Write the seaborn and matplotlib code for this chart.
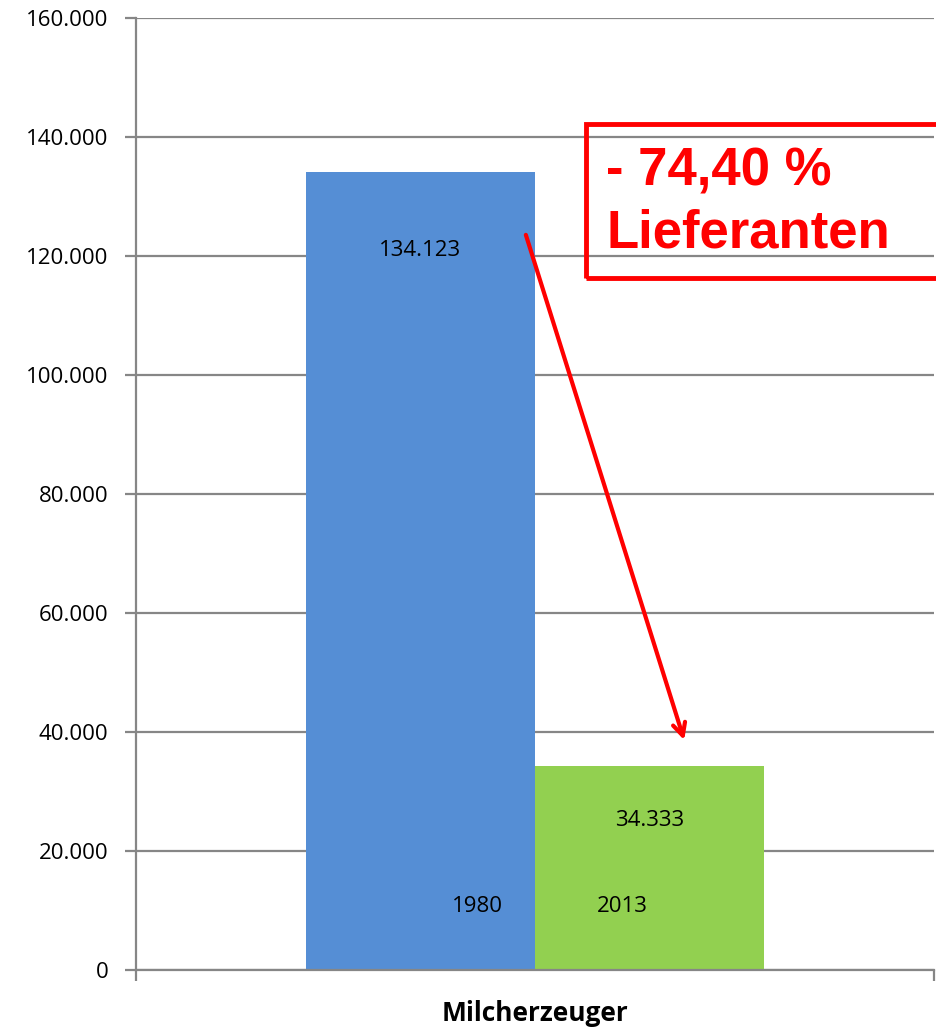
import pandas as pd
import seaborn as sns
import matplotlib.pyplot as plt
import matplotlib.patches as mpatches
from matplotlib.ticker import FuncFormatter

# Data
category = ["Milcherzeuger", "Milcherzeuger"]
years = ["1980", "2013"]
producers = [134123, 34333]
value_labels = ["134.123", "34.333"]
change_text = "- 74,40 %\nLieferanten"

df = pd.DataFrame({"category": category, "year": years, "producers": producers})

sns.set_style("white")
plt.rcParams["font.family"] = ["Open Sans", "DejaVu Sans"]
plt.rcParams["text.color"] = "black"
plt.rcParams["ytick.labelcolor"] = "black"
plt.rcParams["axes.labelcolor"] = "black"

fig = plt.figure(figsize=(9.36, 10.29), dpi=100)
ax = fig.add_axes([136 / 936, 59 / 1029, 798 / 936, 952 / 1029])

sns.barplot(x="category", y="producers", hue="year", data=df,
            palette=["#558ED5", "#92D050"], width=0.574, saturation=1,
            edgecolor="none", linewidth=0, legend=False, ax=ax)

ax.set_xlim(-0.5, 0.5)
ax.set_ylim(0, 160000)
ax.set_yticks(range(0, 160001, 20000))
ax.yaxis.set_major_formatter(FuncFormatter(lambda v, p: f"{int(v):,}".replace(",", ".")))
ax.grid(axis="y", color="#868686", linewidth=1.6)
ax.set_axisbelow(True)

for side in ["top", "right"]:
    ax.spines[side].set_visible(False)
for side in ["left", "bottom"]:
    ax.spines[side].set_color("#868686")
    ax.spines[side].set_linewidth(1.6)

ax.tick_params(axis="y", left=True, length=8, width=1.6, color="#868686",
               labelsize=16, labelcolor="black", pad=12)
ax.set_xticks([0])
ax.set_xticklabels([""])
ax.set_xticks([-0.5, 0.5], minor=True)
ax.tick_params(axis="x", which="major", bottom=False)
ax.tick_params(axis="x", which="minor", bottom=True, length=8, width=1.6, color="#868686")
ax.set_xlabel("Milcherzeuger", fontsize=19, fontweight="bold", labelpad=10)
ax.set_ylabel("")

# value and series labels inside the bars
label_y = [121000, 25200]
for bar, lab, ly in zip(ax.patches, value_labels, label_y):
    cx = bar.get_x() + bar.get_width() / 2
    ax.text(cx, ly, lab, ha="center", va="center", fontsize=16)
series_x = [-0.0725, 0.1095]
for x, yr in zip(series_x, years):
    ax.text(x, 10600, yr, ha="center", va="center", fontsize=16)

# arrow from the first bar to the second
ax.annotate("", xy=(0.1880, 38200), xytext=(-0.0125, 124000),
            arrowprops=dict(arrowstyle="->,head_length=0.9,head_width=0.45",
                            color="#FF0000", lw=3))

# red box with the change
box = mpatches.Rectangle((586 / 936, 1 - 278 / 1029), 0.5, 154 / 1029,
                         transform=fig.transFigure, fill=False,
                         edgecolor="#FF0000", linewidth=3.5, clip_on=False)
fig.patches.append(box)
fig.text(606 / 936, 1 - 147 / 1029, change_text, color="#FF0000",
         fontsize=38, fontweight="bold", family=["Liberation Sans", "DejaVu Sans"],
         ha="left", va="top", linespacing=1.3)

fig.savefig("out.png", dpi=100)
